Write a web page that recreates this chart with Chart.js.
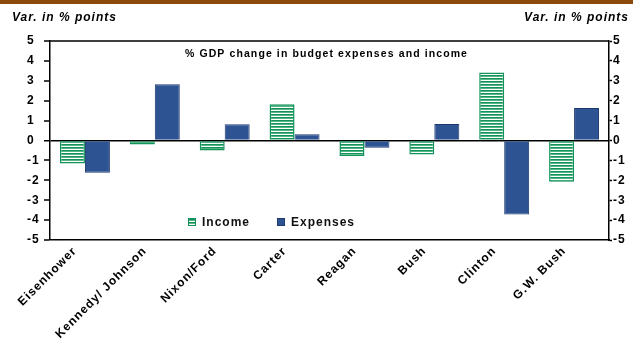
<!DOCTYPE html>
<html>
<head>
<meta charset="utf-8">
<script src="https://cdn.jsdelivr.net/npm/chart.js@4.4.1/dist/chart.umd.min.js"></script>
<style>
  html, body { margin: 0; padding: 0; background: #fff; }
  canvas { display: block; }
</style>
</head>
<body>
<canvas id="budget" width="633" height="346"></canvas>
<script>
// Change in budget expenses and income as % of GDP, by presidency
const presidencies = ['Eisenhower', 'Kennedy/ Johnson', 'Nixon/Ford', 'Carter', 'Reagan', 'Bush', 'Clinton', 'G.W. Bush'];
const incomeChange = [-1.15, -0.2, -0.5, 1.82, -0.78, -0.7, 3.42, -2.07];
const expensesChange = [-1.62, 2.83, 0.82, 0.32, -0.37, 0.83, -3.72, 1.63];
const yTickValues = [-5, -4, -3, -2, -1, 0, 1, 2, 3, 4, 5];
const seriesNames = ['Income', 'Expenses'];
const chartTitle = '% GDP change in budget expenses and income';
const axisTitle = 'Var. in % points';

const FONT = '"Liberation Sans", Arial, Helvetica, sans-serif';
const GREEN = '#11935a';
const BLUE = '#2e5393';
const BLUE_EDGE = '#1d3a6e';
const SPACING = '1px';

// Horizontal green stripes on white for the income bars
function stripePattern() {
  const p = document.createElement('canvas');
  p.width = 4; p.height = 3;
  const g = p.getContext('2d');
  g.fillStyle = '#ffffff'; g.fillRect(0, 0, 4, 3);
  g.fillStyle = GREEN; g.fillRect(0, 0, 4, 1);
  g.fillStyle = '#55b386'; g.fillRect(0, 1, 4, 1);
  const ctx = document.getElementById('budget').getContext('2d');
  return ctx.createPattern(p, 'repeat');
}

const stripes = stripePattern();

const decorations = {
  id: 'decorations',
  beforeUpdate(chart) { chart.ctx.letterSpacing = SPACING; },
  beforeLayout(chart) { chart.ctx.letterSpacing = SPACING; },
  beforeDraw(chart) {
    const c = chart.ctx;
    c.letterSpacing = SPACING;
    c.save();
    c.fillStyle = '#8b4a0d';
    c.fillRect(0, 0, chart.width, 4);
    c.restore();
  },
  afterDraw(chart) {
    const c = chart.ctx;
    const a = chart.chartArea;
    c.save();
    // top edge of the plot frame
    c.strokeStyle = '#000';
    c.lineWidth = 1.5;
    c.beginPath();
    c.moveTo(a.left, a.top);
    c.lineTo(a.right, a.top);
    c.stroke();

    // unit captions above both axes
    c.letterSpacing = SPACING;
    c.fillStyle = '#000';
    c.font = 'italic bold 12px ' + FONT;
    c.textBaseline = 'middle';
    c.textAlign = 'left';
    c.fillText(axisTitle, 12, 18);
    c.textAlign = 'right';
    c.fillText(axisTitle, 629, 18);

    // chart heading inside the frame
    c.letterSpacing = '1.1px';
    c.font = 'bold 10.5px ' + FONT;
    c.textAlign = 'center';
    c.fillText(chartTitle, (a.left + a.right) / 2 - 3, 54);

    // legend inside the frame
    c.letterSpacing = SPACING;
    const ds = chart.data.datasets;
    const items = [{ x: 188, tx: 202 }, { x: 277, tx: 291 }];
    const ly = 218;
    c.font = 'bold 12px ' + FONT;
    c.textAlign = 'left';
    ds.forEach((d, i) => {
      const it = items[i];
      c.fillStyle = d.backgroundColor;
      c.fillRect(it.x, ly, 8, 8);
      c.strokeStyle = d.borderColor;
      c.lineWidth = 1;
      c.strokeRect(it.x + 0.5, ly + 0.5, 7, 7);
      c.fillStyle = '#111';
      c.fillText(d.label, it.tx, ly + 4.5);
    });
    c.restore();
  }
};

new Chart(document.getElementById('budget'), {
  type: 'bar',
  data: {
    labels: presidencies,
    datasets: [
      {
        label: seriesNames[0],
        data: incomeChange,
        backgroundColor: stripes,
        borderColor: GREEN,
        borderWidth: 1.5,
        yAxisID: 'y'
      },
      {
        label: seriesNames[1],
        data: expensesChange,
        backgroundColor: BLUE,
        borderColor: BLUE_EDGE,
        borderWidth: 1,
        yAxisID: 'y'
      }
    ]
  },
  options: {
    responsive: false,
    animation: false,
    devicePixelRatio: 1,
    categoryPercentage: 0.715,
    barPercentage: 1.0,
    layout: { padding: { left: 27, right: 0, top: 41, bottom: 0 } },
    plugins: {
      legend: { display: false },
      title: { display: false },
      tooltip: { enabled: false }
    },
    scales: {
      x: {
        grid: { display: false, drawTicks: false },
        border: { display: true, color: '#000', width: 1.5 },
        ticks: {
          color: '#000',
          font: { family: FONT, size: 12, weight: 'bold' },
          maxRotation: 45,
          minRotation: 45,
          autoSkip: false,
          labelOffset: -10,
          padding: 4
        },
        afterFit(scale) { scale.height = 106; }
      },
      y: {
        position: 'left',
        min: -5,
        max: 5,
        afterBuildTicks(scale) { scale.ticks = yTickValues.map(v => ({ value: v })); },
        grid: {
          drawOnChartArea: true,
          color: ctx => (ctx.tick && ctx.tick.value === 0 ? '#000' : 'rgba(0,0,0,0)'),
          lineWidth: ctx => (ctx.tick && ctx.tick.value === 0 ? 1.5 : 0),
          tickColor: '#000',
          tickWidth: 1.5,
          tickLength: 6
        },
        border: { display: true, color: '#000', width: 1.5 },
        ticks: {
          color: '#000',
          crossAlign: 'far',
          padding: 4,
          font: { family: FONT, size: 12, weight: 'bold' }
        },
        afterFit(scale) { scale.width = 23; }
      },
      y2: {
        position: 'right',
        min: -5,
        max: 5,
        afterBuildTicks(scale) { scale.ticks = yTickValues.map(v => ({ value: v })); },
        grid: {
          drawOnChartArea: false,
          tickColor: '#000',
          tickWidth: 1.5,
          tickLength: 3
        },
        border: { display: true, color: '#000', width: 1.5 },
        ticks: {
          color: '#000',
          padding: 1,
          font: { family: FONT, size: 12, weight: 'bold' }
        },
        afterFit(scale) { scale.width = 24; }
      }
    }
  },
  plugins: [decorations]
});
</script>
</body>
</html>
